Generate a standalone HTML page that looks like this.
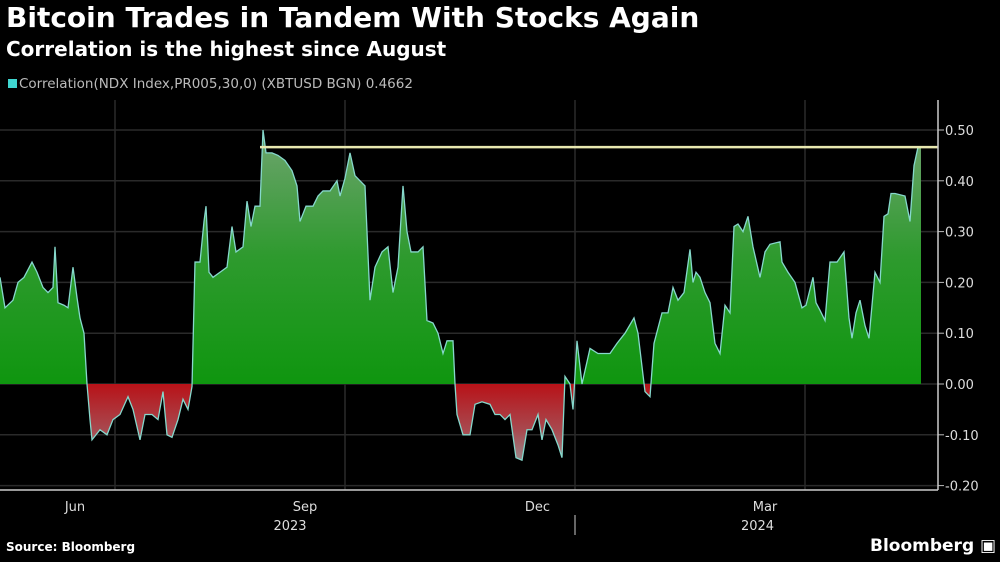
<!DOCTYPE html>
<html><head><meta charset="utf-8"><style>
body{margin:0;background:#000;width:1000px;height:562px;overflow:hidden;font-family:"DejaVu Sans","Liberation Sans",sans-serif;color:#fff}
#t{position:absolute;left:6px;top:1px;font-size:28px;font-weight:bold;white-space:nowrap}
#s{position:absolute;left:6px;top:37px;font-size:20px;font-weight:bold;white-space:nowrap}
#lg{position:absolute;left:8px;top:76px;font-size:13.5px;color:#bbb;white-space:nowrap}
#lg span{display:inline-block;width:9px;height:9px;background:#3fd6d0;margin-right:2px}
#src{position:absolute;left:6px;top:540px;font-size:12px;font-weight:bold}
#bb{position:absolute;left:870px;top:536px;font-size:17px;font-weight:bold}
svg{position:absolute;left:0;top:0}
</style></head><body>
<div id="t">Bitcoin Trades in Tandem With Stocks Again</div>
<div id="s">Correlation is the highest since August</div>
<div id="lg"><span></span>Correlation(NDX Index,PR005,30,0) (XBTUSD BGN) 0.4662</div>
<svg id="c" width="1000" height="562">
<defs>
<linearGradient id="gg" gradientUnits="userSpaceOnUse" x1="0" y1="130" x2="0" y2="384"><stop offset="0" stop-color="#6fa46f"/><stop offset="0.5" stop-color="#2e9a2e"/><stop offset="1" stop-color="#0f960f"/></linearGradient>
<linearGradient id="rg" gradientUnits="userSpaceOnUse" x1="0" y1="384" x2="0" y2="462"><stop offset="0" stop-color="#b81218"/><stop offset="0.6" stop-color="#a84a50"/><stop offset="1" stop-color="#9a8a8c"/></linearGradient>
</defs>
</svg>
<div id="src">Source: Bloomberg</div>
<div id="bb">Bloomberg ▣</div>
<script>
const days=[0,2,5.2,7.2,9.6,12.8,14.8,17.2,19.2,21.2,
22,23.2,25.6,27.2,29.2,30.8,32,33.6,34.8,36,
36.8,40,42.8,45.2,48,51.2,53.2,56,58,60.8,
63.2,65.2,66.8,68.8,71.2,73.2,75.2,76.8,78,80,
81.6,82.4,83.6,85.2,88,90.8,92.8,94.4,97.2,98.8,
100.4,102,104,105.2,106.4,108.8,111.2,114,116.8,118.8,
120,122.4,125.2,127.2,129.2,132,134.8,136,138,140,
142,144,146,148,150,152.8,155.2,157.2,159.2,161.2,
162.8,164.4,167.2,169.2,170.8,173.2,175.2,177.2,178.8,181.2,
182,182.8,185.2,188,190,192.8,196,198,200,202,
204,206.4,208.8,210.8,212.8,215.2,216.8,218.4,220.8,223.2,
224.8,226,228,229.2,230.8,232.8,236,239.2,244,246.8,
250,253.6,255.2,258,260,261.6,264.8,267.2,269.2,271.2,
273.6,276,277.2,278.4,280,282,284,286,288,290,
292,293.6,295.2,297.2,299.2,301.2,304,306,308,312,
312.8,315.2,318,320.8,322.4,325.2,326.4,328,330,332,
334.8,337.6,339.6,340.8,342.4,344,346,347.6,350,352,
353.6,355.2,356.4,358,362,364,365.6,367.2,368.4];
const vals=[.21,.15,.165,.20,.21,.24,.22,.19,.18,.19,
.27,.16,.155,.15,.23,.17,.13,.10,0,-.07,
-.11,-.09,-.10,-.07,-.06,-.025,-.05,-.11,-.06,-.06,
-.07,-.015,-.10,-.105,-.07,-.03,-.05,-.005,.24,.24,
.32,.35,.22,.21,.22,.23,.31,.26,.27,.36,
.31,.35,.35,.50,.455,.455,.45,.44,.42,.39,
.32,.35,.35,.37,.38,.38,.40,.37,.405,.455,
.41,.40,.39,.165,.23,.26,.27,.18,.23,.39,
.30,.26,.26,.27,.125,.12,.10,.06,.085,.085,
0,-.06,-.10,-.10,-.04,-.035,-.04,-.06,-.06,-.07,
-.06,-.145,-.15,-.09,-.09,-.06,-.11,-.07,-.09,-.12,
-.145,.015,0,-.05,.085,0,.07,.06,.06,.08,
.10,.13,.10,-.015,-.025,.08,.14,.14,.19,.165,
.18,.265,.20,.22,.21,.18,.16,.08,.06,.155,
.14,.31,.315,.30,.33,.27,.21,.26,.275,.28,
.24,.22,.20,.15,.155,.21,.16,.145,.125,.24,
.24,.26,.13,.09,.14,.165,.115,.09,.22,.20,
.33,.335,.375,.375,.37,.32,.43,.4662,.4662];
const yTicks=[0.5,0.4,0.3,0.2,0.1,0,-0.1,-0.2];
const yTickLabels=["0.50","0.40","0.30","0.20","0.10","0.00","-0.10","-0.20"];
const monthDays=[30,122,215,306];
const monthLabels=["Jun","Sep","Dec","Mar"];
const gridDays=[46,138,230,322];
const yearDays=[[116,"2023"],[303,"2024"]];
const refValue=0.4662, refStartDay=104;

const svg=document.getElementById('c'),NS='http://www.w3.org/2000/svg';
const X=d=>d*2.5, Y=v=>384-v*508;
const axisX=938, bottomY=490;
function mk(t,a,p){const e=document.createElementNS(NS,t);for(const k in a)e.setAttribute(k,a[k]);(p||svg).appendChild(e);return e;}
yTicks.forEach((v,i)=>{
  const g=mk('line',{x1:0,x2:axisX,y1:Y(v),y2:Y(v),stroke:'#2a2a2a','stroke-width':1.5});
  
  
  const tk=mk('line',{x1:axisX,x2:axisX+6,y1:Y(v),y2:Y(v),stroke:'#bbb'});
  
  
  const t=mk('text',{x:axisX+7,y:Y(v)+5,fill:'#ddd','font-size':13,'font-family':'DejaVu Sans, sans-serif'});
  t.textContent=yTickLabels[i];
  
  
});
gridDays.forEach(d=>{
  const g=mk('line',{x1:X(d),x2:X(d),y1:100,y2:bottomY,stroke:'#2a2a2a','stroke-width':1.5});
  
  
});
const base=Y(0);
let d='M'+X(days[0])+','+base;
days.forEach((dd,i)=>{d+=' L'+X(dd)+','+Y(vals[i]);});
d+=' L'+X(days[days.length-1])+','+base+' Z';
const cpp=mk('clipPath',{id:'cp'});mk('rect',{x:0,y:0,width:1000,height:base},cpp);
const cn=mk('clipPath',{id:'cn'});mk('rect',{x:0,y:base,width:1000,height:200},cn);
const ga=mk('path',{d:d,fill:'url(#gg)','clip-path':'url(#cp)'});


const ra=mk('path',{d:d,fill:'url(#rg)','clip-path':'url(#cn)'});


let ld='';days.forEach((dd,i)=>{ld+=(i?' L':'M')+X(dd)+','+Y(vals[i]);});
const ln=mk('path',{d:ld,fill:'none',stroke:'#86d8cc','stroke-width':1.3});


const rl=mk('line',{x1:X(refStartDay),x2:axisX,y1:Y(refValue),y2:Y(refValue),stroke:'#e8e8b0','stroke-width':2.5});


const ya=mk('line',{x1:axisX,x2:axisX,y1:100,y2:bottomY,stroke:'#ccc','stroke-width':1.5});


const xa=mk('line',{x1:0,x2:axisX,y1:bottomY,y2:bottomY,stroke:'#ccc','stroke-width':1.5});


monthLabels.forEach((m,i)=>{
  const t=mk('text',{x:X(monthDays[i]),y:511,fill:'#ddd','font-size':13,'text-anchor':'middle','font-family':'DejaVu Sans, sans-serif'});
  t.textContent=m;
  
  
});
yearDays.forEach(([dd,l])=>{
  const t=mk('text',{x:X(dd),y:530,fill:'#ddd','font-size':13,'text-anchor':'middle','font-family':'DejaVu Sans, sans-serif'});
  t.textContent=l;
  
  
});
const ys=mk('line',{x1:X(gridDays[2]),x2:X(gridDays[2]),y1:515,y2:535,stroke:'#ccc'});


</script>
</body></html>
